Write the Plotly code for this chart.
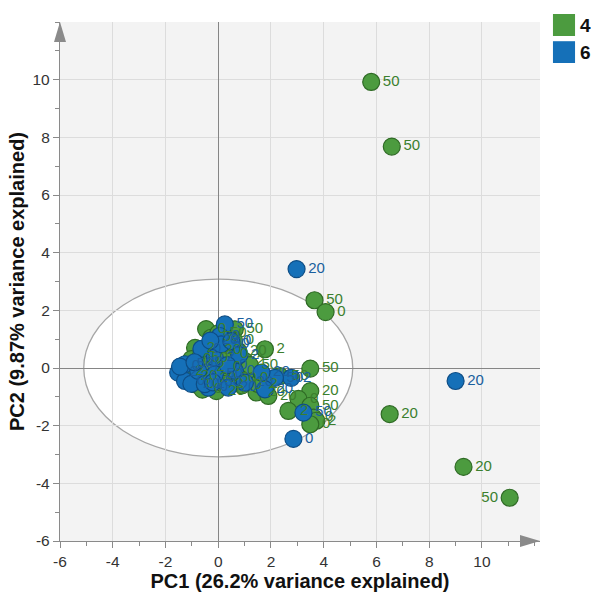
import plotly.graph_objects as go

# ---------------- data ----------------
groups = ["4", "6"]

pc1_g = [5.80, 6.58, 3.65, 4.07, 3.49, 3.49, 3.04, 2.66, 3.49, 3.61, 3.72, 3.49, 6.50, 9.30, 11.05,
         -0.46, 0.63, 1.77, -0.88, -1.02, -0.07, 1.14, 1.45, 1.90, 2.34, 1.01, 0.38, -0.27, -0.51,
         0.12, 0.38, -0.38, -0.89, 0.76, -1.30, -0.70, 0.90, -0.20, 1.50, 0.60, -1.10, 0.20, 1.20,
         -0.60, 0.00]
pc2_g = [9.92, 7.68, 2.35, 1.94, -0.02, -0.80, -1.07, -1.49, -1.31, -1.72, -1.83, -1.95, -1.60, -3.43, -4.50,
         1.35, 1.34, 0.65, 0.70, 0.31, -0.80, -0.34, -0.85, -0.97, -0.28, 0.24, 0.47, 1.05, 0.01,
         0.01, -0.34, -0.34, -0.56, 0.59, -0.10, 0.35, -0.60, 0.60, -0.55, 0.95, -0.30, -0.55, 0.10,
         -0.75, 1.20]
lab_g = ["50", "50", "50", "0", "50", "20", "0", "2", "50", "0", "2", "0", "20", "20", "50",
         "0", "50", "2", "2", "0", "20", "0", "20", "20", "50", "2", "0", "50", "2",
         "0", "50", "20", "0", "20", "2", "50", "0", "20", "2", "0", "20", "2", "50",
         "0", "50"]

pc1_b = [2.97, 9.00, 2.85, 3.23, 2.77, 2.15, 1.64, 1.77,
         0.25, 0.06, -0.64, -1.26, -1.52, -1.26, -1.02, -0.38, 0.38, -0.13, 0.11, 0.50, -0.76,
         -0.13, 0.63, 1.01, -0.51, -0.30, 0.80, -1.45, -0.90, 0.35, -0.20]
pc2_b = [3.43, -0.45, -2.46, -1.55, -0.34, -0.34, -0.16, -0.74,
         1.51, 1.11, 0.66, 0.13, -0.16, -0.45, -0.55, -0.68, -0.68, 0.36, 0.82, 0.93, -0.10,
         -0.22, -0.10, -0.51, -0.56, 0.95, 0.45, 0.05, 0.20, 0.10, -0.50]
lab_b = ["20", "20", "0", "50", "2", "50", "20", "20",
         "50", "0", "0", "50", "2", "0", "20", "0", "20", "2", "50", "0", "2",
         "50", "0", "20", "2", "20", "2", "0", "20", "0", "50"]

x_ticks = [-6, -4, -2, 0, 2, 4, 6, 8, 10]
y_ticks = [-6, -4, -2, 0, 2, 4, 6, 8, 10]
x_tick_text = ["-6", "-4", "-2", "0", "2", "4", "6", "8", "10"]
y_tick_text = ["-6", "-4", "-2", "0", "2", "4", "6", "8", "10"]
ellipse_a, ellipse_b = 5.1, 3.08

x_title = "PC1 (26.2% variance explained)"
y_title = "PC2 (9.87% variance explained)"

# ---------------- style ----------------
fill = {"4": "#4c9b3f", "6": "#1570b8"}
edge = {"4": "#2f6a25", "6": "#0e4d85"}
txtc = {"4": "#3b7f2e", "6": "#1a5f9e"}
FONT = "Liberation Sans, Arial, sans-serif"
MSIZE = 17

series = [("4", pc1_g, pc2_g, lab_g), ("6", pc1_b, pc2_b, lab_b)]

fig = go.Figure()

# markers first
for g, xs, ys, labs in series:
    fig.add_trace(go.Scatter(
        x=xs, y=ys, mode="markers", name=g,
        marker=dict(size=MSIZE, color=fill[g], line=dict(color=edge[g], width=1.2)),
        cliponaxis=False, showlegend=False, hoverinfo="skip",
    ))
# labels on top of all markers (invisible markers keep the text offset)
for g, xs, ys, labs in series:
    pos = ["middle left" if x > 10.5 else "middle right" for x in xs]
    fig.add_trace(go.Scatter(
        x=xs, y=ys, text=labs, mode="markers+text", name=g,
        textposition=pos,
        textfont=dict(family=FONT, size=15, color=txtc[g]),
        marker=dict(size=MSIZE, color="rgba(0,0,0,0)", line=dict(width=0)),
        cliponaxis=False, showlegend=False,
    ))

axis_common = dict(
    showgrid=True, gridcolor="#dcdcdc", gridwidth=1,
    zeroline=True, zerolinecolor="#858585", zerolinewidth=1.3,
    showline=True, linecolor="#8a8a8a", linewidth=1.3,
    ticks="outside", ticklen=6, tickcolor="#8a8a8a", tickwidth=1.2,
    minor=dict(dtick=1, tick0=0, ticks="outside", ticklen=4, tickcolor="#8a8a8a", showgrid=False),
    tickfont=dict(family=FONT, size=15.5, color="#333333"),
    tickmode="array",
)

fig.update_layout(
    width=591, height=592,
    margin=dict(l=60, r=51, t=22, b=51),
    plot_bgcolor="#f3f3f3", paper_bgcolor="white",
    showlegend=False,
    font=dict(family=FONT),
    xaxis=dict(range=[-6, 12.2], tickvals=x_ticks, ticktext=x_tick_text, automargin=False,
               title=dict(text="<b>" + x_title + "</b>", font=dict(family=FONT, size=20, color="#111111"),
                          standoff=3),
               **axis_common),
    yaxis=dict(range=[-6, 12], tickvals=y_ticks, ticktext=y_tick_text, automargin=False,
               title=dict(text="<b>" + y_title + "</b>", font=dict(family=FONT, size=20, color="#111111"),
                          standoff=2),
               **axis_common),
)

# confidence ellipse
fig.add_shape(type="circle", xref="x", yref="y",
              x0=-ellipse_a, x1=ellipse_a, y0=-ellipse_b, y1=ellipse_b,
              fillcolor="white", line=dict(color="#a6a6a6", width=1.3), layer="below")

# axis arrows
fig.add_shape(type="path", xref="paper", yref="paper", xsizemode="pixel", ysizemode="pixel",
              xanchor=1, yanchor=0, path="M -20,-6 L 0,0 L -20,6 Z",
              fillcolor="#8a8a8a", line=dict(width=0))
fig.add_shape(type="path", xref="paper", yref="paper", xsizemode="pixel", ysizemode="pixel",
              xanchor=0, yanchor=1, path="M -6,-20 L 0,0 L 6,-20 Z",
              fillcolor="#8a8a8a", line=dict(width=0))

# legend (custom squares)
leg_y = {"4": (0.973, 1.0154, 0.994), "6": (0.921, 0.963, 0.942)}
for g in groups:
    y0, y1, yt = leg_y[g]
    fig.add_shape(type="rect", xref="paper", yref="paper", x0=1.027, x1=1.073, y0=y0, y1=y1,
                  fillcolor=fill[g], line=dict(width=0))
    fig.add_annotation(xref="paper", yref="paper", x=1.079, y=yt, text="<b>" + g + "</b>",
                       showarrow=False, xanchor="left", yanchor="middle",
                       font=dict(family=FONT, size=19, color="#111111"))

fig.write_html("out.html")
